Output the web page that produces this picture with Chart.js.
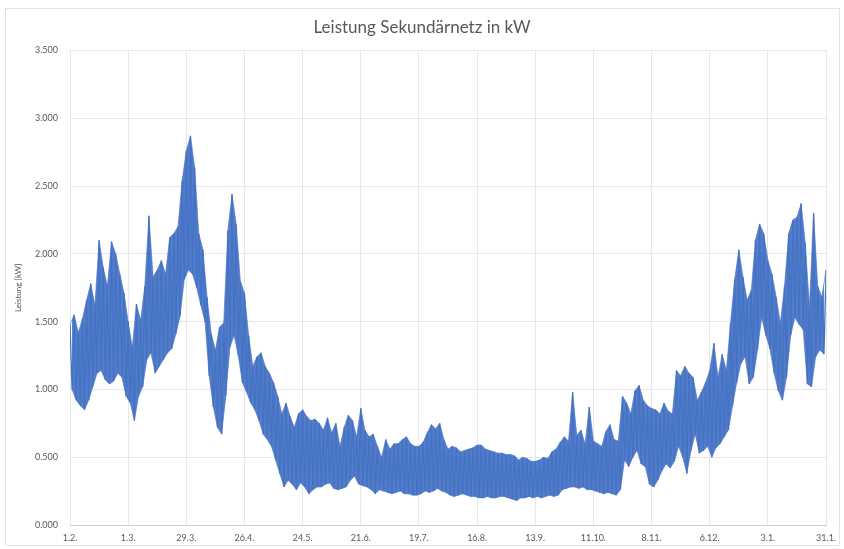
<!DOCTYPE html>
<html>
<head>
<meta charset="utf-8">
<script src="https://cdn.jsdelivr.net/npm/chart.js@4/dist/chart.umd.min.js"></script>
<style>
  html, body { margin: 0; padding: 0; background: #fff; }
  #wrap { position: relative; width: 844px; height: 549px; }
  #frame { position: absolute; left: 5px; top: 8px; width: 833px; height: 536px; border: 1px solid #e3e3e3; pointer-events: none; }
</style>
</head>
<body>
<div id="wrap">
  <canvas id="power-chart" width="844" height="549"></canvas>
  <div id="frame"></div>
</div>
<script>
// x axis: days since 1.2., one tick every 28 days
var xLabels = ["1.2.", "1.3.", "29.3.", "26.4.", "24.5.", "21.6.", "19.7.", "16.8.", "13.9.", "11.10.", "8.11.", "6.12.", "3.1.", "31.1."];
var stepDays = 2;

// upper edge of the band, one value per 2 days
var highValues = [
    1.48, 1.55, 1.42, 1.52, 1.66, 1.78, 1.62, 2.10, 1.90, 1.76, 2.09, 2.00, 1.85, 1.71,
    1.50, 1.31, 1.63, 1.51, 1.76, 2.28, 1.83, 1.88, 1.95, 1.85, 2.12, 2.15, 2.20, 2.54,
    2.76, 2.87, 2.64, 2.15, 2.03, 1.68, 1.41, 1.29, 1.46, 1.49, 2.17, 2.44, 2.22, 1.80,
    1.71, 1.40, 1.17, 1.24, 1.27, 1.17, 1.12, 1.05, 0.95, 0.82, 0.90, 0.80, 0.72, 0.82,
    0.85, 0.80, 0.77, 0.78, 0.75, 0.70, 0.79, 0.68, 0.75, 0.58, 0.72, 0.81, 0.77, 0.65,
    0.86, 0.70, 0.65, 0.67, 0.58, 0.50, 0.63, 0.56, 0.60, 0.60, 0.63, 0.65, 0.60, 0.58,
    0.58, 0.61, 0.68, 0.74, 0.71, 0.75, 0.63, 0.56, 0.58, 0.57, 0.54, 0.55, 0.56, 0.57,
    0.59, 0.59, 0.56, 0.55, 0.54, 0.53, 0.53, 0.52, 0.52, 0.51, 0.48, 0.50, 0.49, 0.47,
    0.47, 0.48, 0.50, 0.49, 0.54, 0.56, 0.61, 0.65, 0.62, 0.98, 0.66, 0.70, 0.60, 0.87,
    0.62, 0.60, 0.58, 0.69, 0.74, 0.63, 0.62, 0.95, 0.90, 0.82, 0.99, 1.03, 0.92, 0.88,
    0.86, 0.85, 0.82, 0.90, 0.84, 0.82, 1.14, 1.10, 1.17, 1.12, 1.09, 0.92, 0.98, 1.05,
    1.14, 1.34, 1.09, 1.26, 1.14, 1.49, 1.81, 2.03, 1.83, 1.66, 1.73, 2.10, 2.22, 2.15,
    1.95, 1.85, 1.68, 1.49, 1.76, 2.15, 2.25, 2.27, 2.37, 2.08, 1.61, 2.30, 1.76, 1.68, 1.88
];

// lower edge of the band, the day after each high value
var lowValues = [
    1.00, 0.92, 0.88, 0.85, 0.92, 1.02, 1.12, 1.14, 1.07, 1.04, 1.06, 1.12, 1.09, 0.95,
    0.90, 0.77, 0.95, 1.02, 1.22, 1.27, 1.12, 1.17, 1.22, 1.27, 1.30, 1.41, 1.54, 1.81,
    1.88, 1.85, 1.75, 1.62, 1.50, 1.10, 0.87, 0.72, 0.67, 0.95, 1.31, 1.40, 1.25, 1.05,
    0.98, 0.90, 0.85, 0.77, 0.67, 0.63, 0.58, 0.48, 0.38, 0.28, 0.33, 0.30, 0.26, 0.31,
    0.28, 0.23, 0.26, 0.28, 0.28, 0.30, 0.31, 0.27, 0.26, 0.27, 0.28, 0.33, 0.36, 0.30,
    0.29, 0.28, 0.26, 0.23, 0.26, 0.25, 0.24, 0.23, 0.24, 0.25, 0.23, 0.23, 0.22, 0.22,
    0.23, 0.25, 0.24, 0.25, 0.27, 0.25, 0.24, 0.22, 0.21, 0.22, 0.23, 0.22, 0.21, 0.21,
    0.20, 0.20, 0.21, 0.20, 0.20, 0.21, 0.21, 0.20, 0.19, 0.18, 0.20, 0.20, 0.21, 0.20,
    0.21, 0.20, 0.21, 0.22, 0.21, 0.22, 0.26, 0.27, 0.28, 0.28, 0.27, 0.28, 0.26, 0.26,
    0.25, 0.24, 0.23, 0.24, 0.23, 0.22, 0.26, 0.48, 0.43, 0.50, 0.55, 0.45, 0.43, 0.30,
    0.28, 0.33, 0.40, 0.45, 0.42, 0.47, 0.58, 0.50, 0.38, 0.55, 0.67, 0.53, 0.55, 0.58,
    0.50, 0.57, 0.60, 0.65, 0.70, 0.88, 1.05, 1.19, 1.24, 1.04, 1.09, 1.29, 1.53, 1.40,
    1.30, 1.12, 0.99, 0.92, 1.09, 1.40, 1.53, 1.48, 1.44, 1.04, 1.02, 1.24, 1.29, 1.26
];

function highPoints() {
    return highValues.map(function (value, i) { return { x: i * stepDays, y: value }; });
}

function lowPoints() {
    return lowValues.map(function (value, i) { return { x: i * stepDays + 1, y: value }; });
}

function zigzagPoints() {
    var points = [];
    highValues.forEach(function (value, i) {
        points.push({ x: i * stepDays, y: value });
        if (i < lowValues.length) {
            points.push({ x: i * stepDays + 1, y: lowValues[i] });
        }
    });
    return points;
}

function buildPowerChart() {
    var ctx = document.getElementById('power-chart').getContext('2d');
    var gray = '#595959';
    var blue = '#4472C4';
    var font = 'Lato, "Open Sans", sans-serif';

    new Chart(ctx, {
        type: 'line',
        data: {
            datasets: [{
                label: 'Leistung',
                data: zigzagPoints(),
                borderColor: blue,
                borderWidth: 1.3,
                pointRadius: 0,
                tension: 0,
                fill: false,
                order: 0
            }, {
                label: 'max',
                data: highPoints(),
                borderColor: 'rgba(68,114,196,0.6)',
                borderWidth: 1,
                backgroundColor: 'rgba(68,114,196,0.92)',
                pointRadius: 0,
                tension: 0,
                fill: '+1',
                order: 1
            }, {
                label: 'min',
                data: lowPoints(),
                borderColor: 'rgba(68,114,196,0.6)',
                borderWidth: 1,
                pointRadius: 0,
                tension: 0,
                fill: false,
                order: 2
            }]
        },
        options: {
            responsive: false,
            animation: false,
            layout: { padding: { left: 14, right: 14, top: 0, bottom: 0 } },
            plugins: {
                legend: { display: false },
                tooltip: { enabled: false },
                title: {
                    display: true,
                    text: 'Leistung Sekundärnetz in kW',
                    color: gray,
                    font: { family: font, size: 17, weight: 'normal', lineHeight: 1.2 },
                    padding: { top: 17, bottom: 13 }
                }
            },
            scales: {
                x: {
                    type: 'linear',
                    min: 0,
                    max: 364,
                    afterFit: function (scale) { scale.height = 24; },
                    afterBuildTicks: function (scale) {
                        scale.ticks = xLabels.map(function (label, i) { return { value: i * 28 }; });
                    },
                    ticks: {
                        autoSkip: false,
                        maxRotation: 0,
                        padding: 8,
                        color: gray,
                        font: { family: font, size: 9 },
                        callback: function (value, index) { return xLabels[index]; }
                    },
                    grid: { color: '#e6e6e6', drawTicks: false },
                    border: { color: '#d0d0d0' }
                },
                y: {
                    min: 0,
                    max: 3.5,
                    afterFit: function (scale) { scale.width = 56; },
                    ticks: {
                        stepSize: 0.5,
                        padding: 12,
                        color: gray,
                        font: { family: font, size: 9 },
                        callback: function (value) { return value.toFixed(3); }
                    },
                    title: {
                        display: true,
                        text: 'Leistung [kW]',
                        color: gray,
                        font: { family: font, size: 8 },
                        padding: 0
                    },
                    grid: { color: '#e6e6e6', drawTicks: false },
                    border: { display: false }
                }
            }
        }
    });
}

buildPowerChart();
</script>
</body>
</html>
